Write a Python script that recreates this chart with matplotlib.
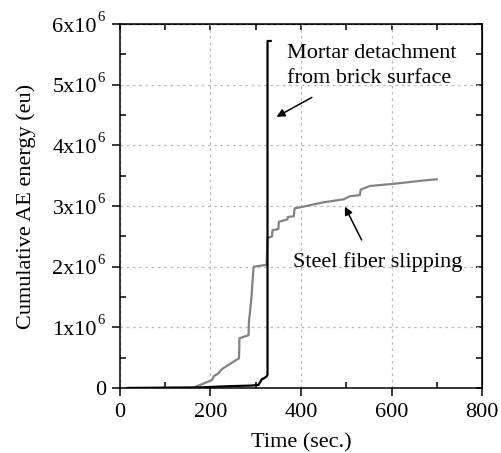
import matplotlib
matplotlib.use("Agg")
import matplotlib.pyplot as plt
from matplotlib.ticker import MultipleLocator, NullFormatter

plt.rcParams['font.family'] = ['Liberation Serif', 'Tinos', 'FreeSerif', 'DejaVu Serif']

# Mortar detachment curve (black), energy in units of 1e6 eu
mortar_t = [17, 177, 243, 290, 306, 313, 320, 324, 326, 326, 333]
mortar_e = [0.0, 0.01, 0.03, 0.04, 0.05, 0.14, 0.17, 0.19, 0.22, 5.72, 5.72]

# Steel fiber slipping curve (gray)
fiber_t = [17, 160, 177, 203, 208, 217, 225, 250, 263, 264, 284, 285, 287, 291, 293, 295,
           296, 324, 326, 336, 337, 350, 351, 370, 371, 384, 386, 412, 449, 494, 508,
           530, 532, 552, 597, 634, 670, 700]
fiber_e = [0.0, 0.0, 0.05, 0.13, 0.2, 0.24, 0.31, 0.43, 0.49, 0.82, 0.87, 1.1, 1.23, 1.53, 1.78, 1.97,
           2.0, 2.03, 2.47, 2.5, 2.6, 2.62, 2.74, 2.78, 2.82, 2.83, 2.96, 3.0, 3.06, 3.11, 3.16,
           3.18, 3.27, 3.33, 3.36, 3.39, 3.42, 3.44]

x_ticks = [0, 200, 400, 600, 800]
y_ticks = [0, 1, 2, 3, 4, 5, 6]
y_mantissa = ['0', '1x10', '2x10', '3x10', '4x10', '5x10', '6x10']
y_exponent = ['', '6', '6', '6', '6', '6', '6']

PX = 0.72  # points per pixel at 100 dpi

fig = plt.figure(figsize=(5.01, 4.53), dpi=100)
ax = fig.add_axes([0.2395, 0.1435, 0.7226, 0.8035])

ax.plot(fiber_t, [v * 1e6 for v in fiber_e], color='#828282', lw=1.6)
ax.plot(mortar_t, [v * 1e6 for v in mortar_e], color='black', lw=1.6)

ax.set_xlim(0, 800)
ax.set_ylim(0, 6e6)
ax.set_xticks(x_ticks)
ax.set_yticks([v * 1e6 for v in y_ticks])
ax.yaxis.set_major_formatter(NullFormatter())
ax.xaxis.set_minor_locator(MultipleLocator(100))
ax.yaxis.set_minor_locator(MultipleLocator(0.5e6))

ax.grid(True, which='major', linestyle=(0, (2, 3)), color='#b8b8b8', lw=0.9)
ax.tick_params(which='major', direction='out', length=6, width=1.1, labelsize=16, pad=5)
ax.tick_params(which='minor', direction='in', length=4, width=1.1)
for s in ax.spines.values():
    s.set_linewidth(1.1)

# y tick labels with small superscript exponent
ytr = ax.get_yaxis_transform()
for v, m, e in zip(y_ticks, y_mantissa, y_exponent):
    if e:
        ax.annotate(m, xy=(0, v * 1e6), xycoords=ytr, xytext=(-23 * PX, -7.5 * PX),
                    textcoords='offset points', ha='right', va='baseline', fontsize=16,
                    annotation_clip=False)
        ax.annotate(e, xy=(0, v * 1e6), xycoords=ytr, xytext=(-22.5 * PX, 3 * PX),
                    textcoords='offset points', ha='left', va='baseline', fontsize=10.5,
                    annotation_clip=False)
    else:
        ax.annotate(m, xy=(0, v * 1e6), xycoords=ytr, xytext=(-14 * PX, -7.5 * PX),
                    textcoords='offset points', ha='right', va='baseline', fontsize=16,
                    annotation_clip=False)

sx = ax.secondary_xaxis('top')
sx.set_xticks(x_ticks)
sx.xaxis.set_minor_locator(MultipleLocator(100))
sx.tick_params(which='both', direction='in', length=4, width=1.1, labeltop=False)
sy = ax.secondary_yaxis('right')
sy.set_yticks([v * 1e6 for v in y_ticks])
sy.yaxis.set_minor_locator(MultipleLocator(0.5e6))
sy.tick_params(which='both', direction='in', length=4, width=1.1, labelright=False)

ax.set_xlabel('Time (sec.)', fontsize=16, labelpad=8)
ylab = ax.set_ylabel('Cumulative AE energy (eu)', fontsize=16)
ylab.set_verticalalignment('center')
ax.yaxis.set_label_coords(-0.258, 0.5)

arrow = dict(arrowstyle='-|>', color='black', lw=1.1, mutation_scale=12, shrinkA=0, shrinkB=0)
ax.text(369, 5.31e6, 'Mortar detachment\nfrom brick surface', fontsize=16,
        ha='left', va='center', linespacing=1.45)
ax.annotate('', xy=(346, 4.47e6), xytext=(424, 4.79e6), arrowprops=arrow)
ax.annotate('', xy=(497, 2.99e6), xytext=(534, 2.44e6), arrowprops=arrow)
ax.text(383, 2.08e6, 'Steel fiber slipping', fontsize=16, ha='left', va='center')

fig.savefig('out.png', dpi=100)
